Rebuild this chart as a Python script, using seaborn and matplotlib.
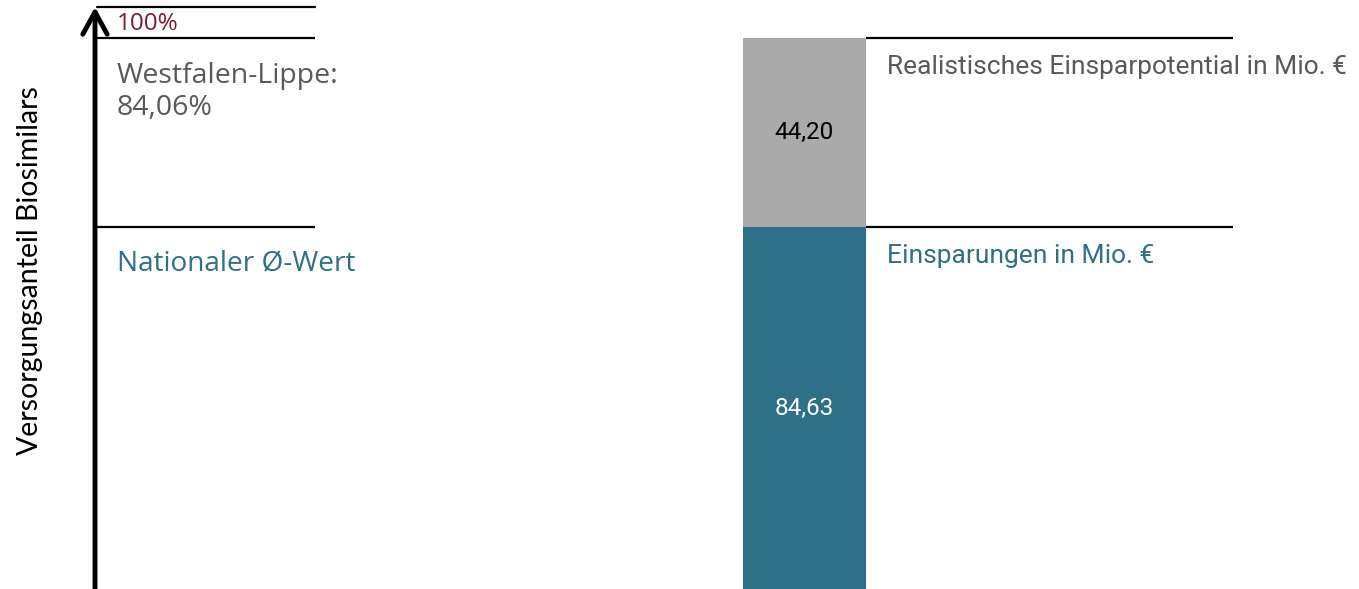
import matplotlib
matplotlib.use("Agg")
import matplotlib.pyplot as plt
import matplotlib.transforms as mtransforms
import seaborn as sns
import pandas as pd

# Savings in million euro
segments = ["Einsparungen in Mio. €", "Realistisches Einsparpotential in Mio. €"]
segment_values = [84.63, 44.20]
segment_colors = ["#2e7087", "#a9aaa9"]
segment_label_colors = ["white", "black"]
segment_text_colors = ["#2e7087", "#595959"]

# Supply share of biosimilars
share_labels = ["100%", "Westfalen-Lippe:\n84,06%", "Nationaler Ø-Wert"]
share_colors = ["#7d1c2c", "#595959", "#2e7087"]
y_axis_label = "Versorgungsanteil Biosimilars"

sns.set_theme(style="white")
plt.rcParams["font.family"] = ["Open Sans", "DejaVu Sans"]

W, H = 1359, 589
fig = plt.figure(figsize=(W / 100, H / 100), dpi=100)
fig.patch.set_facecolor("white")

ax_l = fig.add_axes([0, 0, 600 / W, 1])
ax_r = fig.add_axes([600 / W, 0, 759 / W, 1])

savings, potential = segment_values
total = savings + potential
ymax = total * 1.069
for ax in (ax_l, ax_r):
    ax.set_ylim(0, ymax)
    ax.set_axis_off()

# Stacked bar: full height in grey, achieved savings in teal on top of it
cat = ["Biosimilars"]
df_total = pd.DataFrame({"x": cat, "y": [total]})
df_sav = pd.DataFrame({"x": cat, "y": [savings]})
sns.barplot(data=df_total, x="x", y="y", color=segment_colors[1], width=0.8,
            saturation=1, ax=ax_r, edgecolor="none")
sns.barplot(data=df_sav, x="x", y="y", color=segment_colors[0], width=0.8,
            saturation=1, ax=ax_r, edgecolor="none")
ax_r.set_xlim(-1.330, 3.607)
ax_r.set_axis_off()
ax_r.set_ylim(0, ymax)

fmt = lambda v: f"{v:.2f}".replace(".", ",")
right_font = ["Roboto", "DejaVu Sans"]
# value labels centred in each segment
ax_r.text(0, savings / 2, fmt(savings), ha="center", va="center",
          color=segment_label_colors[0], fontsize=17.5, family=right_font)
ax_r.text(0, savings + potential / 2, fmt(potential), ha="center", va="center",
          color=segment_label_colors[1], fontsize=17.5, family=right_font)

# guide lines and captions right of the bar
line_end = 2.787
for level, text, col in [(total, segments[1], segment_text_colors[1]),
                         (savings, segments[0], segment_text_colors[0])]:
    ax_r.hlines(level, 0.4, line_end, color="black", lw=1.6)
    ax_r.annotate(text, xy=(0.537, level), xytext=(0, -12.5),
                  textcoords="offset points", ha="left", va="top",
                  color=col, fontsize=19, family=right_font)

# left schematic axis with arrow
trans = mtransforms.blended_transform_factory(ax_l.transAxes, ax_l.transData)
top_frac = 1 - 7 / H
ax_l.annotate("", xy=(95 / 600, top_frac), xytext=(95 / 600, -0.01),
              xycoords="axes fraction", textcoords="axes fraction",
              arrowprops=dict(arrowstyle="->,head_length=0.4,head_width=0.22",
                              lw=3.5, color="black", capstyle="round",
                              mutation_scale=40, shrinkA=0, shrinkB=0))
ax_l.axhline(ymax * top_frac, xmin=97 / 600, xmax=315 / 600, color="black", lw=1.6)
ax_l.hlines([total, savings], 97 / 600, 315 / 600, transform=trans,
            color="black", lw=1.6)

ax_l.text(117 / 600, ymax * (1 - 24 / H), share_labels[0], transform=trans,
          ha="left", va="center", color=share_colors[0], fontsize=17.5)
ax_l.annotate(share_labels[1], xy=(117 / 600, total), xycoords=trans,
              xytext=(0, -17), textcoords="offset points", ha="left", va="top",
              color=share_colors[1], fontsize=20.5, linespacing=1.22)
ax_l.annotate(share_labels[2], xy=(117 / 600, savings), xycoords=trans,
              xytext=(0, -16), textcoords="offset points", ha="left", va="top",
              color=share_colors[2], fontsize=20.2)

fig.text(30 / W, 1 - 271 / H, y_axis_label, rotation=90, ha="center",
         va="center", fontsize=20.5, color="black", family=["Lato", "DejaVu Sans"])

fig.savefig("out.png", dpi=100, facecolor="white")
